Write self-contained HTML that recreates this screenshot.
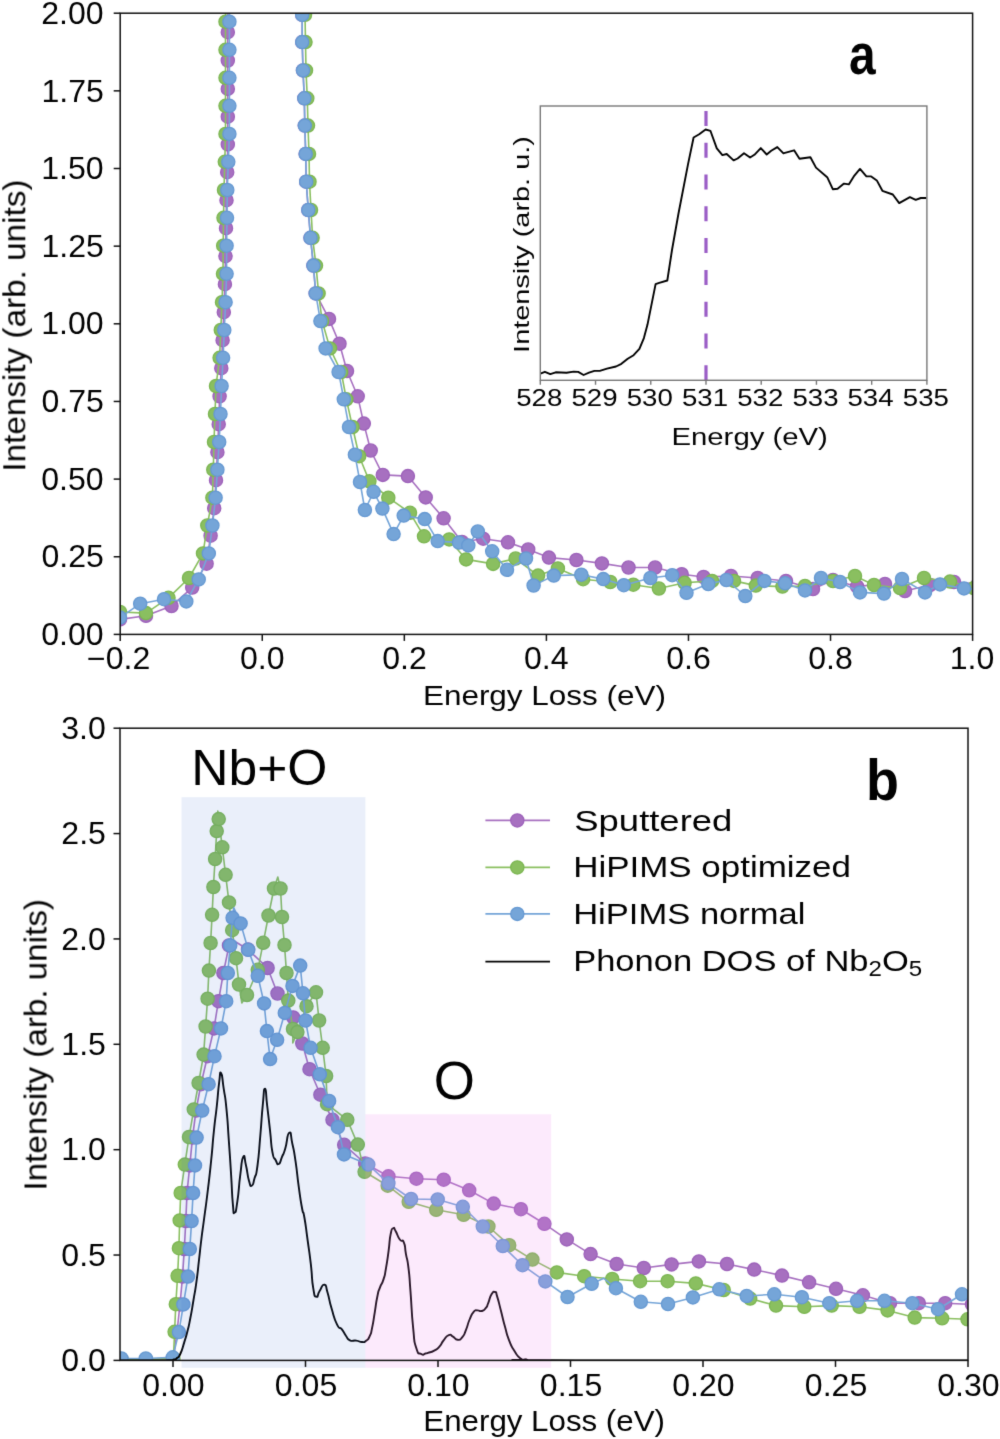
<!DOCTYPE html>
<html><head><meta charset="utf-8"><title>EELS spectra</title>
<style>html,body{margin:0;padding:0;background:#fff;}svg{display:block;font-family:"Liberation Sans",sans-serif;}</style>
</head><body>
<svg width="1000" height="1439" viewBox="0 0 1000 1439">
<defs>
<clipPath id="ca"><rect x="120.2" y="13.2" width="852.4" height="621.1999999999999"/></clipPath>
<clipPath id="cb"><rect x="120.0" y="728.2" width="848.0" height="632.2"/></clipPath>
<clipPath id="ci"><rect x="540.3" y="106.0" width="386.6" height="274.3"/></clipPath>
<filter id="soft" x="0" y="0" width="1000" height="1439" filterUnits="userSpaceOnUse" color-interpolation-filters="sRGB"><feConvolveMatrix order="3" kernelMatrix="0.01134 0.08382 0.01134 0.08382 0.61935 0.08382 0.01134 0.08382 0.01134" divisor="1" edgeMode="duplicate" preserveAlpha="false"/></filter>
</defs>
<g filter="url(#soft)">
<rect x="0" y="0" width="1000" height="1439" fill="#fff"/>
<g clip-path="url(#ca)">
<path d="M95.0,628.0 L120.0,619.4 L146.0,615.8 L171.5,606.0 L192.2,587.6 L206.6,563.7 L210.6,535.7 L214.2,508.2 L216.0,480.2 L217.4,452.2 L218.7,424.2 L219.6,396.3 L221.3,368.2 L222.6,340.2 L223.8,312.2 L224.9,284.2 L225.5,256.2 L226.0,228.2 L226.5,200.2 L227.2,172.2 L227.8,144.4 L227.8,116.7 L227.8,88.9 L227.8,60.5 L227.8,32.2 L228.0,4.5 L229.0,-20.0 L300.0,-20.0 L302.2,14.8 L302.2,42.1 L303.0,70.4 L304.3,98.3 L304.8,125.6 L305.7,153.9 L306.2,181.7 L308.3,210.0 L310.5,237.8 L313.4,265.6 L315.7,293.4 L329.0,318.9 L339.5,343.7 L347.0,371.0 L357.7,396.3 L363.8,423.6 L370.7,450.5 L382.8,474.9 L407.9,476.1 L425.7,497.4 L443.6,518.3 L462.0,542.0 L483.2,538.7 L508.0,542.3 L528.2,549.5 L548.9,557.6 L576.4,560.0 L601.9,563.4 L628.5,567.5 L655.1,567.5 L681.7,574.2 L703.6,577.0 L731.0,576.0 L757.7,578.0 L786.0,581.0 L813.0,589.0 L833.0,580.0 L857.0,586.4 L885.0,584.0 L905.0,591.0 L930.0,585.0 L954.0,582.0 L978.0,584.0 L1000.0,585.0" fill="none" stroke="#a770c0" stroke-width="1.6" stroke-linejoin="round"/>
<circle cx="120.0" cy="619.4" r="6.6" fill="#a770c0" stroke="#9d62ba" stroke-width="1.3"/>
<circle cx="146.0" cy="615.8" r="6.6" fill="#a770c0" stroke="#9d62ba" stroke-width="1.3"/>
<circle cx="171.5" cy="606.0" r="6.6" fill="#a770c0" stroke="#9d62ba" stroke-width="1.3"/>
<circle cx="192.2" cy="587.6" r="6.6" fill="#a770c0" stroke="#9d62ba" stroke-width="1.3"/>
<circle cx="206.6" cy="563.7" r="6.6" fill="#a770c0" stroke="#9d62ba" stroke-width="1.3"/>
<circle cx="210.6" cy="535.7" r="6.6" fill="#a770c0" stroke="#9d62ba" stroke-width="1.3"/>
<circle cx="214.2" cy="508.2" r="6.6" fill="#a770c0" stroke="#9d62ba" stroke-width="1.3"/>
<circle cx="216.0" cy="480.2" r="6.6" fill="#a770c0" stroke="#9d62ba" stroke-width="1.3"/>
<circle cx="217.4" cy="452.2" r="6.6" fill="#a770c0" stroke="#9d62ba" stroke-width="1.3"/>
<circle cx="218.7" cy="424.2" r="6.6" fill="#a770c0" stroke="#9d62ba" stroke-width="1.3"/>
<circle cx="219.6" cy="396.3" r="6.6" fill="#a770c0" stroke="#9d62ba" stroke-width="1.3"/>
<circle cx="221.3" cy="368.2" r="6.6" fill="#a770c0" stroke="#9d62ba" stroke-width="1.3"/>
<circle cx="222.6" cy="340.2" r="6.6" fill="#a770c0" stroke="#9d62ba" stroke-width="1.3"/>
<circle cx="223.8" cy="312.2" r="6.6" fill="#a770c0" stroke="#9d62ba" stroke-width="1.3"/>
<circle cx="224.9" cy="284.2" r="6.6" fill="#a770c0" stroke="#9d62ba" stroke-width="1.3"/>
<circle cx="225.5" cy="256.2" r="6.6" fill="#a770c0" stroke="#9d62ba" stroke-width="1.3"/>
<circle cx="226.0" cy="228.2" r="6.6" fill="#a770c0" stroke="#9d62ba" stroke-width="1.3"/>
<circle cx="226.5" cy="200.2" r="6.6" fill="#a770c0" stroke="#9d62ba" stroke-width="1.3"/>
<circle cx="227.2" cy="172.2" r="6.6" fill="#a770c0" stroke="#9d62ba" stroke-width="1.3"/>
<circle cx="227.8" cy="144.4" r="6.6" fill="#a770c0" stroke="#9d62ba" stroke-width="1.3"/>
<circle cx="227.8" cy="116.7" r="6.6" fill="#a770c0" stroke="#9d62ba" stroke-width="1.3"/>
<circle cx="227.8" cy="88.9" r="6.6" fill="#a770c0" stroke="#9d62ba" stroke-width="1.3"/>
<circle cx="227.8" cy="60.5" r="6.6" fill="#a770c0" stroke="#9d62ba" stroke-width="1.3"/>
<circle cx="227.8" cy="32.2" r="6.6" fill="#a770c0" stroke="#9d62ba" stroke-width="1.3"/>
<circle cx="228.0" cy="4.5" r="6.6" fill="#a770c0" stroke="#9d62ba" stroke-width="1.3"/>
<circle cx="302.2" cy="14.8" r="6.6" fill="#a770c0" stroke="#9d62ba" stroke-width="1.3"/>
<circle cx="302.2" cy="42.1" r="6.6" fill="#a770c0" stroke="#9d62ba" stroke-width="1.3"/>
<circle cx="303.0" cy="70.4" r="6.6" fill="#a770c0" stroke="#9d62ba" stroke-width="1.3"/>
<circle cx="304.3" cy="98.3" r="6.6" fill="#a770c0" stroke="#9d62ba" stroke-width="1.3"/>
<circle cx="304.8" cy="125.6" r="6.6" fill="#a770c0" stroke="#9d62ba" stroke-width="1.3"/>
<circle cx="305.7" cy="153.9" r="6.6" fill="#a770c0" stroke="#9d62ba" stroke-width="1.3"/>
<circle cx="306.2" cy="181.7" r="6.6" fill="#a770c0" stroke="#9d62ba" stroke-width="1.3"/>
<circle cx="308.3" cy="210.0" r="6.6" fill="#a770c0" stroke="#9d62ba" stroke-width="1.3"/>
<circle cx="310.5" cy="237.8" r="6.6" fill="#a770c0" stroke="#9d62ba" stroke-width="1.3"/>
<circle cx="313.4" cy="265.6" r="6.6" fill="#a770c0" stroke="#9d62ba" stroke-width="1.3"/>
<circle cx="315.7" cy="293.4" r="6.6" fill="#a770c0" stroke="#9d62ba" stroke-width="1.3"/>
<circle cx="329.0" cy="318.9" r="6.6" fill="#a770c0" stroke="#9d62ba" stroke-width="1.3"/>
<circle cx="339.5" cy="343.7" r="6.6" fill="#a770c0" stroke="#9d62ba" stroke-width="1.3"/>
<circle cx="347.0" cy="371.0" r="6.6" fill="#a770c0" stroke="#9d62ba" stroke-width="1.3"/>
<circle cx="357.7" cy="396.3" r="6.6" fill="#a770c0" stroke="#9d62ba" stroke-width="1.3"/>
<circle cx="363.8" cy="423.6" r="6.6" fill="#a770c0" stroke="#9d62ba" stroke-width="1.3"/>
<circle cx="370.7" cy="450.5" r="6.6" fill="#a770c0" stroke="#9d62ba" stroke-width="1.3"/>
<circle cx="382.8" cy="474.9" r="6.6" fill="#a770c0" stroke="#9d62ba" stroke-width="1.3"/>
<circle cx="407.9" cy="476.1" r="6.6" fill="#a770c0" stroke="#9d62ba" stroke-width="1.3"/>
<circle cx="425.7" cy="497.4" r="6.6" fill="#a770c0" stroke="#9d62ba" stroke-width="1.3"/>
<circle cx="443.6" cy="518.3" r="6.6" fill="#a770c0" stroke="#9d62ba" stroke-width="1.3"/>
<circle cx="462.0" cy="542.0" r="6.6" fill="#a770c0" stroke="#9d62ba" stroke-width="1.3"/>
<circle cx="483.2" cy="538.7" r="6.6" fill="#a770c0" stroke="#9d62ba" stroke-width="1.3"/>
<circle cx="508.0" cy="542.3" r="6.6" fill="#a770c0" stroke="#9d62ba" stroke-width="1.3"/>
<circle cx="528.2" cy="549.5" r="6.6" fill="#a770c0" stroke="#9d62ba" stroke-width="1.3"/>
<circle cx="548.9" cy="557.6" r="6.6" fill="#a770c0" stroke="#9d62ba" stroke-width="1.3"/>
<circle cx="576.4" cy="560.0" r="6.6" fill="#a770c0" stroke="#9d62ba" stroke-width="1.3"/>
<circle cx="601.9" cy="563.4" r="6.6" fill="#a770c0" stroke="#9d62ba" stroke-width="1.3"/>
<circle cx="628.5" cy="567.5" r="6.6" fill="#a770c0" stroke="#9d62ba" stroke-width="1.3"/>
<circle cx="655.1" cy="567.5" r="6.6" fill="#a770c0" stroke="#9d62ba" stroke-width="1.3"/>
<circle cx="681.7" cy="574.2" r="6.6" fill="#a770c0" stroke="#9d62ba" stroke-width="1.3"/>
<circle cx="703.6" cy="577.0" r="6.6" fill="#a770c0" stroke="#9d62ba" stroke-width="1.3"/>
<circle cx="731.0" cy="576.0" r="6.6" fill="#a770c0" stroke="#9d62ba" stroke-width="1.3"/>
<circle cx="757.7" cy="578.0" r="6.6" fill="#a770c0" stroke="#9d62ba" stroke-width="1.3"/>
<circle cx="786.0" cy="581.0" r="6.6" fill="#a770c0" stroke="#9d62ba" stroke-width="1.3"/>
<circle cx="813.0" cy="589.0" r="6.6" fill="#a770c0" stroke="#9d62ba" stroke-width="1.3"/>
<circle cx="833.0" cy="580.0" r="6.6" fill="#a770c0" stroke="#9d62ba" stroke-width="1.3"/>
<circle cx="857.0" cy="586.4" r="6.6" fill="#a770c0" stroke="#9d62ba" stroke-width="1.3"/>
<circle cx="885.0" cy="584.0" r="6.6" fill="#a770c0" stroke="#9d62ba" stroke-width="1.3"/>
<circle cx="905.0" cy="591.0" r="6.6" fill="#a770c0" stroke="#9d62ba" stroke-width="1.3"/>
<circle cx="930.0" cy="585.0" r="6.6" fill="#a770c0" stroke="#9d62ba" stroke-width="1.3"/>
<circle cx="954.0" cy="582.0" r="6.6" fill="#a770c0" stroke="#9d62ba" stroke-width="1.3"/>
<circle cx="978.0" cy="584.0" r="6.6" fill="#a770c0" stroke="#9d62ba" stroke-width="1.3"/>
</g>
<g clip-path="url(#ca)">
<path d="M95.0,606.0 L120.0,612.0 L146.0,613.1 L168.5,597.8 L189.0,578.0 L203.0,553.4 L207.3,525.5 L212.4,497.7 L213.3,469.7 L214.0,442.0 L215.0,414.0 L216.0,386.0 L219.6,357.8 L220.8,330.0 L222.0,302.2 L223.0,273.8 L223.2,245.7 L223.5,217.8 L224.0,190.0 L224.8,161.8 L225.5,133.9 L225.5,105.8 L225.5,77.8 L225.5,49.8 L225.5,21.7 L226.0,-6.0 L227.0,-20.0 L303.0,-20.0 L305.0,14.8 L305.5,42.1 L306.0,70.4 L307.3,98.3 L308.0,125.6 L309.0,153.9 L309.5,181.7 L311.0,210.0 L312.6,237.8 L316.0,265.6 L318.6,293.4 L322.1,321.0 L330.0,348.4 L341.2,372.0 L346.4,399.3 L352.5,427.0 L359.2,456.2 L369.4,481.3 L388.3,497.7 L410.0,512.8 L424.0,536.3 L449.2,539.4 L466.1,559.4 L493.1,563.9 L515.6,558.5 L538.1,575.6 L557.9,568.4 L583.1,579.2 L610.3,582.0 L633.3,584.7 L658.9,588.5 L684.6,582.8 L712.1,580.9 L734.0,580.9 L755.8,585.6 L782.4,586.6 L805.0,586.0 L833.0,581.0 L855.0,576.0 L874.0,585.0 L900.0,588.0 L924.0,578.0 L950.0,581.6 L974.0,588.0 L1000.0,586.0" fill="none" stroke="#8abf60" stroke-width="1.6" stroke-linejoin="round"/>
<circle cx="120.0" cy="612.0" r="6.6" fill="#8abf60" stroke="#7cb652" stroke-width="1.3"/>
<circle cx="146.0" cy="613.1" r="6.6" fill="#8abf60" stroke="#7cb652" stroke-width="1.3"/>
<circle cx="168.5" cy="597.8" r="6.6" fill="#8abf60" stroke="#7cb652" stroke-width="1.3"/>
<circle cx="189.0" cy="578.0" r="6.6" fill="#8abf60" stroke="#7cb652" stroke-width="1.3"/>
<circle cx="203.0" cy="553.4" r="6.6" fill="#8abf60" stroke="#7cb652" stroke-width="1.3"/>
<circle cx="207.3" cy="525.5" r="6.6" fill="#8abf60" stroke="#7cb652" stroke-width="1.3"/>
<circle cx="212.4" cy="497.7" r="6.6" fill="#8abf60" stroke="#7cb652" stroke-width="1.3"/>
<circle cx="213.3" cy="469.7" r="6.6" fill="#8abf60" stroke="#7cb652" stroke-width="1.3"/>
<circle cx="214.0" cy="442.0" r="6.6" fill="#8abf60" stroke="#7cb652" stroke-width="1.3"/>
<circle cx="215.0" cy="414.0" r="6.6" fill="#8abf60" stroke="#7cb652" stroke-width="1.3"/>
<circle cx="216.0" cy="386.0" r="6.6" fill="#8abf60" stroke="#7cb652" stroke-width="1.3"/>
<circle cx="219.6" cy="357.8" r="6.6" fill="#8abf60" stroke="#7cb652" stroke-width="1.3"/>
<circle cx="220.8" cy="330.0" r="6.6" fill="#8abf60" stroke="#7cb652" stroke-width="1.3"/>
<circle cx="222.0" cy="302.2" r="6.6" fill="#8abf60" stroke="#7cb652" stroke-width="1.3"/>
<circle cx="223.0" cy="273.8" r="6.6" fill="#8abf60" stroke="#7cb652" stroke-width="1.3"/>
<circle cx="223.2" cy="245.7" r="6.6" fill="#8abf60" stroke="#7cb652" stroke-width="1.3"/>
<circle cx="223.5" cy="217.8" r="6.6" fill="#8abf60" stroke="#7cb652" stroke-width="1.3"/>
<circle cx="224.0" cy="190.0" r="6.6" fill="#8abf60" stroke="#7cb652" stroke-width="1.3"/>
<circle cx="224.8" cy="161.8" r="6.6" fill="#8abf60" stroke="#7cb652" stroke-width="1.3"/>
<circle cx="225.5" cy="133.9" r="6.6" fill="#8abf60" stroke="#7cb652" stroke-width="1.3"/>
<circle cx="225.5" cy="105.8" r="6.6" fill="#8abf60" stroke="#7cb652" stroke-width="1.3"/>
<circle cx="225.5" cy="77.8" r="6.6" fill="#8abf60" stroke="#7cb652" stroke-width="1.3"/>
<circle cx="225.5" cy="49.8" r="6.6" fill="#8abf60" stroke="#7cb652" stroke-width="1.3"/>
<circle cx="225.5" cy="21.7" r="6.6" fill="#8abf60" stroke="#7cb652" stroke-width="1.3"/>
<circle cx="226.0" cy="-6.0" r="6.6" fill="#8abf60" stroke="#7cb652" stroke-width="1.3"/>
<circle cx="305.0" cy="14.8" r="6.6" fill="#8abf60" stroke="#7cb652" stroke-width="1.3"/>
<circle cx="305.5" cy="42.1" r="6.6" fill="#8abf60" stroke="#7cb652" stroke-width="1.3"/>
<circle cx="306.0" cy="70.4" r="6.6" fill="#8abf60" stroke="#7cb652" stroke-width="1.3"/>
<circle cx="307.3" cy="98.3" r="6.6" fill="#8abf60" stroke="#7cb652" stroke-width="1.3"/>
<circle cx="308.0" cy="125.6" r="6.6" fill="#8abf60" stroke="#7cb652" stroke-width="1.3"/>
<circle cx="309.0" cy="153.9" r="6.6" fill="#8abf60" stroke="#7cb652" stroke-width="1.3"/>
<circle cx="309.5" cy="181.7" r="6.6" fill="#8abf60" stroke="#7cb652" stroke-width="1.3"/>
<circle cx="311.0" cy="210.0" r="6.6" fill="#8abf60" stroke="#7cb652" stroke-width="1.3"/>
<circle cx="312.6" cy="237.8" r="6.6" fill="#8abf60" stroke="#7cb652" stroke-width="1.3"/>
<circle cx="316.0" cy="265.6" r="6.6" fill="#8abf60" stroke="#7cb652" stroke-width="1.3"/>
<circle cx="318.6" cy="293.4" r="6.6" fill="#8abf60" stroke="#7cb652" stroke-width="1.3"/>
<circle cx="322.1" cy="321.0" r="6.6" fill="#8abf60" stroke="#7cb652" stroke-width="1.3"/>
<circle cx="330.0" cy="348.4" r="6.6" fill="#8abf60" stroke="#7cb652" stroke-width="1.3"/>
<circle cx="341.2" cy="372.0" r="6.6" fill="#8abf60" stroke="#7cb652" stroke-width="1.3"/>
<circle cx="346.4" cy="399.3" r="6.6" fill="#8abf60" stroke="#7cb652" stroke-width="1.3"/>
<circle cx="352.5" cy="427.0" r="6.6" fill="#8abf60" stroke="#7cb652" stroke-width="1.3"/>
<circle cx="359.2" cy="456.2" r="6.6" fill="#8abf60" stroke="#7cb652" stroke-width="1.3"/>
<circle cx="369.4" cy="481.3" r="6.6" fill="#8abf60" stroke="#7cb652" stroke-width="1.3"/>
<circle cx="388.3" cy="497.7" r="6.6" fill="#8abf60" stroke="#7cb652" stroke-width="1.3"/>
<circle cx="410.0" cy="512.8" r="6.6" fill="#8abf60" stroke="#7cb652" stroke-width="1.3"/>
<circle cx="424.0" cy="536.3" r="6.6" fill="#8abf60" stroke="#7cb652" stroke-width="1.3"/>
<circle cx="449.2" cy="539.4" r="6.6" fill="#8abf60" stroke="#7cb652" stroke-width="1.3"/>
<circle cx="466.1" cy="559.4" r="6.6" fill="#8abf60" stroke="#7cb652" stroke-width="1.3"/>
<circle cx="493.1" cy="563.9" r="6.6" fill="#8abf60" stroke="#7cb652" stroke-width="1.3"/>
<circle cx="515.6" cy="558.5" r="6.6" fill="#8abf60" stroke="#7cb652" stroke-width="1.3"/>
<circle cx="538.1" cy="575.6" r="6.6" fill="#8abf60" stroke="#7cb652" stroke-width="1.3"/>
<circle cx="557.9" cy="568.4" r="6.6" fill="#8abf60" stroke="#7cb652" stroke-width="1.3"/>
<circle cx="583.1" cy="579.2" r="6.6" fill="#8abf60" stroke="#7cb652" stroke-width="1.3"/>
<circle cx="610.3" cy="582.0" r="6.6" fill="#8abf60" stroke="#7cb652" stroke-width="1.3"/>
<circle cx="633.3" cy="584.7" r="6.6" fill="#8abf60" stroke="#7cb652" stroke-width="1.3"/>
<circle cx="658.9" cy="588.5" r="6.6" fill="#8abf60" stroke="#7cb652" stroke-width="1.3"/>
<circle cx="684.6" cy="582.8" r="6.6" fill="#8abf60" stroke="#7cb652" stroke-width="1.3"/>
<circle cx="712.1" cy="580.9" r="6.6" fill="#8abf60" stroke="#7cb652" stroke-width="1.3"/>
<circle cx="734.0" cy="580.9" r="6.6" fill="#8abf60" stroke="#7cb652" stroke-width="1.3"/>
<circle cx="755.8" cy="585.6" r="6.6" fill="#8abf60" stroke="#7cb652" stroke-width="1.3"/>
<circle cx="782.4" cy="586.6" r="6.6" fill="#8abf60" stroke="#7cb652" stroke-width="1.3"/>
<circle cx="805.0" cy="586.0" r="6.6" fill="#8abf60" stroke="#7cb652" stroke-width="1.3"/>
<circle cx="833.0" cy="581.0" r="6.6" fill="#8abf60" stroke="#7cb652" stroke-width="1.3"/>
<circle cx="855.0" cy="576.0" r="6.6" fill="#8abf60" stroke="#7cb652" stroke-width="1.3"/>
<circle cx="874.0" cy="585.0" r="6.6" fill="#8abf60" stroke="#7cb652" stroke-width="1.3"/>
<circle cx="900.0" cy="588.0" r="6.6" fill="#8abf60" stroke="#7cb652" stroke-width="1.3"/>
<circle cx="924.0" cy="578.0" r="6.6" fill="#8abf60" stroke="#7cb652" stroke-width="1.3"/>
<circle cx="950.0" cy="581.6" r="6.6" fill="#8abf60" stroke="#7cb652" stroke-width="1.3"/>
<circle cx="974.0" cy="588.0" r="6.6" fill="#8abf60" stroke="#7cb652" stroke-width="1.3"/>
</g>
<g clip-path="url(#ca)">
<path d="M95.0,630.0 L120.0,617.6 L140.2,603.7 L164.0,599.2 L186.3,601.4 L198.7,579.4 L208.8,553.4 L212.4,525.5 L215.6,497.7 L217.4,469.7 L219.2,442.0 L220.5,414.0 L221.6,386.0 L223.1,357.8 L224.3,330.0 L225.6,302.2 L226.6,273.8 L226.6,245.7 L227.0,217.8 L227.3,190.0 L228.3,161.8 L229.4,133.9 L229.4,105.8 L229.4,77.8 L229.4,49.8 L229.4,21.7 L229.6,-6.0 L230.0,-20.0 L302.0,-20.0 L302.2,14.8 L302.2,42.1 L303.0,70.4 L304.3,98.3 L304.8,125.6 L305.7,153.9 L306.2,181.7 L308.3,210.0 L310.5,237.8 L313.4,265.6 L315.7,293.4 L320.4,321.1 L325.6,348.4 L338.6,372.0 L343.8,399.3 L349.0,427.0 L354.9,454.7 L360.0,482.0 L364.9,510.0 L373.6,491.8 L382.4,508.6 L393.6,534.1 L403.7,515.6 L424.7,519.1 L437.7,541.1 L459.0,542.6 L468.3,545.4 L477.8,531.5 L492.2,551.3 L507.0,569.8 L526.0,558.5 L533.6,585.5 L553.8,575.6 L581.3,574.7 L603.3,579.1 L623.8,585.2 L650.4,578.0 L672.2,575.2 L686.5,592.8 L708.3,584.0 L726.4,580.0 L745.3,596.0 L764.4,580.9 L785.1,583.3 L805.0,590.4 L821.0,578.0 L840.0,582.0 L860.0,592.4 L884.0,593.6 L902.0,579.0 L925.0,592.4 L940.0,584.4 L964.0,588.4 L985.0,590.0 L1000.0,590.0" fill="none" stroke="#75a5d8" stroke-width="1.6" stroke-linejoin="round"/>
<circle cx="120.0" cy="617.6" r="6.6" fill="#75a5d8" stroke="#6699d2" stroke-width="1.3"/>
<circle cx="140.2" cy="603.7" r="6.6" fill="#75a5d8" stroke="#6699d2" stroke-width="1.3"/>
<circle cx="164.0" cy="599.2" r="6.6" fill="#75a5d8" stroke="#6699d2" stroke-width="1.3"/>
<circle cx="186.3" cy="601.4" r="6.6" fill="#75a5d8" stroke="#6699d2" stroke-width="1.3"/>
<circle cx="198.7" cy="579.4" r="6.6" fill="#75a5d8" stroke="#6699d2" stroke-width="1.3"/>
<circle cx="208.8" cy="553.4" r="6.6" fill="#75a5d8" stroke="#6699d2" stroke-width="1.3"/>
<circle cx="212.4" cy="525.5" r="6.6" fill="#75a5d8" stroke="#6699d2" stroke-width="1.3"/>
<circle cx="215.6" cy="497.7" r="6.6" fill="#75a5d8" stroke="#6699d2" stroke-width="1.3"/>
<circle cx="217.4" cy="469.7" r="6.6" fill="#75a5d8" stroke="#6699d2" stroke-width="1.3"/>
<circle cx="219.2" cy="442.0" r="6.6" fill="#75a5d8" stroke="#6699d2" stroke-width="1.3"/>
<circle cx="220.5" cy="414.0" r="6.6" fill="#75a5d8" stroke="#6699d2" stroke-width="1.3"/>
<circle cx="221.6" cy="386.0" r="6.6" fill="#75a5d8" stroke="#6699d2" stroke-width="1.3"/>
<circle cx="223.1" cy="357.8" r="6.6" fill="#75a5d8" stroke="#6699d2" stroke-width="1.3"/>
<circle cx="224.3" cy="330.0" r="6.6" fill="#75a5d8" stroke="#6699d2" stroke-width="1.3"/>
<circle cx="225.6" cy="302.2" r="6.6" fill="#75a5d8" stroke="#6699d2" stroke-width="1.3"/>
<circle cx="226.6" cy="273.8" r="6.6" fill="#75a5d8" stroke="#6699d2" stroke-width="1.3"/>
<circle cx="226.6" cy="245.7" r="6.6" fill="#75a5d8" stroke="#6699d2" stroke-width="1.3"/>
<circle cx="227.0" cy="217.8" r="6.6" fill="#75a5d8" stroke="#6699d2" stroke-width="1.3"/>
<circle cx="227.3" cy="190.0" r="6.6" fill="#75a5d8" stroke="#6699d2" stroke-width="1.3"/>
<circle cx="228.3" cy="161.8" r="6.6" fill="#75a5d8" stroke="#6699d2" stroke-width="1.3"/>
<circle cx="229.4" cy="133.9" r="6.6" fill="#75a5d8" stroke="#6699d2" stroke-width="1.3"/>
<circle cx="229.4" cy="105.8" r="6.6" fill="#75a5d8" stroke="#6699d2" stroke-width="1.3"/>
<circle cx="229.4" cy="77.8" r="6.6" fill="#75a5d8" stroke="#6699d2" stroke-width="1.3"/>
<circle cx="229.4" cy="49.8" r="6.6" fill="#75a5d8" stroke="#6699d2" stroke-width="1.3"/>
<circle cx="229.4" cy="21.7" r="6.6" fill="#75a5d8" stroke="#6699d2" stroke-width="1.3"/>
<circle cx="229.6" cy="-6.0" r="6.6" fill="#75a5d8" stroke="#6699d2" stroke-width="1.3"/>
<circle cx="302.2" cy="14.8" r="6.6" fill="#75a5d8" stroke="#6699d2" stroke-width="1.3"/>
<circle cx="302.2" cy="42.1" r="6.6" fill="#75a5d8" stroke="#6699d2" stroke-width="1.3"/>
<circle cx="303.0" cy="70.4" r="6.6" fill="#75a5d8" stroke="#6699d2" stroke-width="1.3"/>
<circle cx="304.3" cy="98.3" r="6.6" fill="#75a5d8" stroke="#6699d2" stroke-width="1.3"/>
<circle cx="304.8" cy="125.6" r="6.6" fill="#75a5d8" stroke="#6699d2" stroke-width="1.3"/>
<circle cx="305.7" cy="153.9" r="6.6" fill="#75a5d8" stroke="#6699d2" stroke-width="1.3"/>
<circle cx="306.2" cy="181.7" r="6.6" fill="#75a5d8" stroke="#6699d2" stroke-width="1.3"/>
<circle cx="308.3" cy="210.0" r="6.6" fill="#75a5d8" stroke="#6699d2" stroke-width="1.3"/>
<circle cx="310.5" cy="237.8" r="6.6" fill="#75a5d8" stroke="#6699d2" stroke-width="1.3"/>
<circle cx="313.4" cy="265.6" r="6.6" fill="#75a5d8" stroke="#6699d2" stroke-width="1.3"/>
<circle cx="315.7" cy="293.4" r="6.6" fill="#75a5d8" stroke="#6699d2" stroke-width="1.3"/>
<circle cx="320.4" cy="321.1" r="6.6" fill="#75a5d8" stroke="#6699d2" stroke-width="1.3"/>
<circle cx="325.6" cy="348.4" r="6.6" fill="#75a5d8" stroke="#6699d2" stroke-width="1.3"/>
<circle cx="338.6" cy="372.0" r="6.6" fill="#75a5d8" stroke="#6699d2" stroke-width="1.3"/>
<circle cx="343.8" cy="399.3" r="6.6" fill="#75a5d8" stroke="#6699d2" stroke-width="1.3"/>
<circle cx="349.0" cy="427.0" r="6.6" fill="#75a5d8" stroke="#6699d2" stroke-width="1.3"/>
<circle cx="354.9" cy="454.7" r="6.6" fill="#75a5d8" stroke="#6699d2" stroke-width="1.3"/>
<circle cx="360.0" cy="482.0" r="6.6" fill="#75a5d8" stroke="#6699d2" stroke-width="1.3"/>
<circle cx="364.9" cy="510.0" r="6.6" fill="#75a5d8" stroke="#6699d2" stroke-width="1.3"/>
<circle cx="373.6" cy="491.8" r="6.6" fill="#75a5d8" stroke="#6699d2" stroke-width="1.3"/>
<circle cx="382.4" cy="508.6" r="6.6" fill="#75a5d8" stroke="#6699d2" stroke-width="1.3"/>
<circle cx="393.6" cy="534.1" r="6.6" fill="#75a5d8" stroke="#6699d2" stroke-width="1.3"/>
<circle cx="403.7" cy="515.6" r="6.6" fill="#75a5d8" stroke="#6699d2" stroke-width="1.3"/>
<circle cx="424.7" cy="519.1" r="6.6" fill="#75a5d8" stroke="#6699d2" stroke-width="1.3"/>
<circle cx="437.7" cy="541.1" r="6.6" fill="#75a5d8" stroke="#6699d2" stroke-width="1.3"/>
<circle cx="459.0" cy="542.6" r="6.6" fill="#75a5d8" stroke="#6699d2" stroke-width="1.3"/>
<circle cx="468.3" cy="545.4" r="6.6" fill="#75a5d8" stroke="#6699d2" stroke-width="1.3"/>
<circle cx="477.8" cy="531.5" r="6.6" fill="#75a5d8" stroke="#6699d2" stroke-width="1.3"/>
<circle cx="492.2" cy="551.3" r="6.6" fill="#75a5d8" stroke="#6699d2" stroke-width="1.3"/>
<circle cx="507.0" cy="569.8" r="6.6" fill="#75a5d8" stroke="#6699d2" stroke-width="1.3"/>
<circle cx="526.0" cy="558.5" r="6.6" fill="#75a5d8" stroke="#6699d2" stroke-width="1.3"/>
<circle cx="533.6" cy="585.5" r="6.6" fill="#75a5d8" stroke="#6699d2" stroke-width="1.3"/>
<circle cx="553.8" cy="575.6" r="6.6" fill="#75a5d8" stroke="#6699d2" stroke-width="1.3"/>
<circle cx="581.3" cy="574.7" r="6.6" fill="#75a5d8" stroke="#6699d2" stroke-width="1.3"/>
<circle cx="603.3" cy="579.1" r="6.6" fill="#75a5d8" stroke="#6699d2" stroke-width="1.3"/>
<circle cx="623.8" cy="585.2" r="6.6" fill="#75a5d8" stroke="#6699d2" stroke-width="1.3"/>
<circle cx="650.4" cy="578.0" r="6.6" fill="#75a5d8" stroke="#6699d2" stroke-width="1.3"/>
<circle cx="672.2" cy="575.2" r="6.6" fill="#75a5d8" stroke="#6699d2" stroke-width="1.3"/>
<circle cx="686.5" cy="592.8" r="6.6" fill="#75a5d8" stroke="#6699d2" stroke-width="1.3"/>
<circle cx="708.3" cy="584.0" r="6.6" fill="#75a5d8" stroke="#6699d2" stroke-width="1.3"/>
<circle cx="726.4" cy="580.0" r="6.6" fill="#75a5d8" stroke="#6699d2" stroke-width="1.3"/>
<circle cx="745.3" cy="596.0" r="6.6" fill="#75a5d8" stroke="#6699d2" stroke-width="1.3"/>
<circle cx="764.4" cy="580.9" r="6.6" fill="#75a5d8" stroke="#6699d2" stroke-width="1.3"/>
<circle cx="785.1" cy="583.3" r="6.6" fill="#75a5d8" stroke="#6699d2" stroke-width="1.3"/>
<circle cx="805.0" cy="590.4" r="6.6" fill="#75a5d8" stroke="#6699d2" stroke-width="1.3"/>
<circle cx="821.0" cy="578.0" r="6.6" fill="#75a5d8" stroke="#6699d2" stroke-width="1.3"/>
<circle cx="840.0" cy="582.0" r="6.6" fill="#75a5d8" stroke="#6699d2" stroke-width="1.3"/>
<circle cx="860.0" cy="592.4" r="6.6" fill="#75a5d8" stroke="#6699d2" stroke-width="1.3"/>
<circle cx="884.0" cy="593.6" r="6.6" fill="#75a5d8" stroke="#6699d2" stroke-width="1.3"/>
<circle cx="902.0" cy="579.0" r="6.6" fill="#75a5d8" stroke="#6699d2" stroke-width="1.3"/>
<circle cx="925.0" cy="592.4" r="6.6" fill="#75a5d8" stroke="#6699d2" stroke-width="1.3"/>
<circle cx="940.0" cy="584.4" r="6.6" fill="#75a5d8" stroke="#6699d2" stroke-width="1.3"/>
<circle cx="964.0" cy="588.4" r="6.6" fill="#75a5d8" stroke="#6699d2" stroke-width="1.3"/>
<circle cx="985.0" cy="590.0" r="6.6" fill="#75a5d8" stroke="#6699d2" stroke-width="1.3"/>
</g>
<rect x="540.3" y="106.0" width="386.6" height="274.3" fill="#fff"/>
<path d="M540.4,373.6 L544.9,371.8 L550.3,374.1 L555.7,372.3 L566.5,372.7 L573.7,371.6 L578.2,371.9 L583.6,375.0 L589.0,372.7 L594.4,370.9 L599.8,370.9 L607.0,368.7 L616.0,366.5 L621.4,363.8 L627.7,358.8 L633.6,355.2 L639.4,348.9 L643.9,338.1 L647.5,324.6 L655.6,284.1 L659.2,282.8 L667.3,280.5 L672.0,250.0 L678.4,214.0 L688.0,164.4 L693.6,137.5 L699.2,134.3 L705.6,129.5 L710.4,130.8 L716.8,148.4 L722.4,155.1 L726.7,154.0 L733.6,160.4 L737.6,158.5 L744.0,153.2 L750.1,157.5 L754.4,154.8 L760.8,148.1 L766.7,154.5 L771.2,150.8 L777.3,147.1 L783.2,153.2 L784.0,153.2 L794.1,150.3 L799.5,158.8 L810.4,157.2 L816.0,167.6 L827.2,177.2 L832.8,189.2 L837.6,188.7 L844.0,183.6 L848.8,184.4 L854.4,175.6 L860.0,168.9 L866.4,176.4 L871.2,176.4 L876.8,180.4 L882.4,190.8 L892.8,194.5 L899.2,203.1 L909.9,197.2 L915.7,199.9 L920.8,198.0 L926.4,198.0" fill="none" stroke="#000" stroke-width="1.9" stroke-linejoin="round" clip-path="url(#ci)"/>
<line x1="705.99" y1="380.3" x2="705.99" y2="106.0" stroke="#9a5cc6" stroke-width="3.2" stroke-dasharray="15 16.8"/>
<rect x="540.3" y="106.0" width="386.6" height="274.3" fill="none" stroke="#777" stroke-width="1.4"/>
<line x1="540.30" y1="380.3" x2="540.30" y2="384.8" stroke="#777" stroke-width="1.4"/>
<line x1="595.53" y1="380.3" x2="595.53" y2="384.8" stroke="#777" stroke-width="1.4"/>
<line x1="650.76" y1="380.3" x2="650.76" y2="384.8" stroke="#777" stroke-width="1.4"/>
<line x1="705.99" y1="380.3" x2="705.99" y2="384.8" stroke="#777" stroke-width="1.4"/>
<line x1="761.21" y1="380.3" x2="761.21" y2="384.8" stroke="#777" stroke-width="1.4"/>
<line x1="816.44" y1="380.3" x2="816.44" y2="384.8" stroke="#777" stroke-width="1.4"/>
<line x1="871.67" y1="380.3" x2="871.67" y2="384.8" stroke="#777" stroke-width="1.4"/>
<line x1="926.90" y1="380.3" x2="926.90" y2="384.8" stroke="#777" stroke-width="1.4"/>
<rect x="120.2" y="13.2" width="852.4" height="621.1999999999999" fill="none" stroke="#111" stroke-width="1.5"/>
<line x1="113.7" y1="634.40" x2="120.2" y2="634.40" stroke="#111" stroke-width="1.5"/>
<line x1="113.7" y1="556.75" x2="120.2" y2="556.75" stroke="#111" stroke-width="1.5"/>
<line x1="113.7" y1="479.10" x2="120.2" y2="479.10" stroke="#111" stroke-width="1.5"/>
<line x1="113.7" y1="401.45" x2="120.2" y2="401.45" stroke="#111" stroke-width="1.5"/>
<line x1="113.7" y1="323.80" x2="120.2" y2="323.80" stroke="#111" stroke-width="1.5"/>
<line x1="113.7" y1="246.15" x2="120.2" y2="246.15" stroke="#111" stroke-width="1.5"/>
<line x1="113.7" y1="168.50" x2="120.2" y2="168.50" stroke="#111" stroke-width="1.5"/>
<line x1="113.7" y1="90.85" x2="120.2" y2="90.85" stroke="#111" stroke-width="1.5"/>
<line x1="113.7" y1="13.20" x2="120.2" y2="13.20" stroke="#111" stroke-width="1.5"/>
<line x1="120.20" y1="634.4" x2="120.20" y2="640.9" stroke="#111" stroke-width="1.5"/>
<line x1="262.27" y1="634.4" x2="262.27" y2="640.9" stroke="#111" stroke-width="1.5"/>
<line x1="404.33" y1="634.4" x2="404.33" y2="640.9" stroke="#111" stroke-width="1.5"/>
<line x1="546.40" y1="634.4" x2="546.40" y2="640.9" stroke="#111" stroke-width="1.5"/>
<line x1="688.47" y1="634.4" x2="688.47" y2="640.9" stroke="#111" stroke-width="1.5"/>
<line x1="830.53" y1="634.4" x2="830.53" y2="640.9" stroke="#111" stroke-width="1.5"/>
<line x1="972.60" y1="634.4" x2="972.60" y2="640.9" stroke="#111" stroke-width="1.5"/>
<g clip-path="url(#cb)">
<path d="M95.0,1360.0 L121.4,1359.5 L146.0,1359.5 L172.5,1359.0 L174.5,1350.0 L177.0,1332.0 L180.0,1304.4 L182.5,1276.6 L184.3,1249.0 L185.8,1221.0 L187.0,1193.0 L189.8,1165.4 L192.5,1137.6 L196.0,1110.6 L201.0,1084.2 L207.5,1056.2 L214.0,1028.4 L218.4,1001.2 L223.4,973.0 L229.0,945.4 L231.0,939.0 L248.0,949.5 L267.6,968.0 L277.5,993.5 L293.2,1017.4 L302.3,1043.5 L309.5,1069.2 L320.4,1094.7 L332.5,1119.8 L344.2,1144.8 L365.2,1163.5 L388.4,1176.3 L416.4,1178.7 L443.7,1179.7 L469.2,1190.3 L493.7,1203.6 L520.9,1209.2 L544.4,1223.8 L566.8,1239.4 L590.6,1254.1 L616.6,1264.0 L643.8,1268.0 L671.6,1264.4 L698.9,1261.4 L727.0,1264.0 L754.2,1269.6 L782.0,1275.6 L809.1,1282.3 L836.0,1288.8 L862.9,1295.3 L890.0,1303.2 L918.8,1303.2 L945.2,1303.2 L972.0,1304.4 L1000.0,1305.0" fill="none" stroke="#a770c0" stroke-width="1.6" stroke-linejoin="round"/>
<circle cx="121.4" cy="1359.5" r="6.6" fill="#a770c0" stroke="#9d62ba" stroke-width="1.3"/>
<circle cx="146.0" cy="1359.5" r="6.6" fill="#a770c0" stroke="#9d62ba" stroke-width="1.3"/>
<circle cx="172.5" cy="1359.0" r="6.6" fill="#a770c0" stroke="#9d62ba" stroke-width="1.3"/>
<circle cx="177.0" cy="1332.0" r="6.6" fill="#a770c0" stroke="#9d62ba" stroke-width="1.3"/>
<circle cx="180.0" cy="1304.4" r="6.6" fill="#a770c0" stroke="#9d62ba" stroke-width="1.3"/>
<circle cx="182.5" cy="1276.6" r="6.6" fill="#a770c0" stroke="#9d62ba" stroke-width="1.3"/>
<circle cx="184.3" cy="1249.0" r="6.6" fill="#a770c0" stroke="#9d62ba" stroke-width="1.3"/>
<circle cx="185.8" cy="1221.0" r="6.6" fill="#a770c0" stroke="#9d62ba" stroke-width="1.3"/>
<circle cx="187.0" cy="1193.0" r="6.6" fill="#a770c0" stroke="#9d62ba" stroke-width="1.3"/>
<circle cx="189.8" cy="1165.4" r="6.6" fill="#a770c0" stroke="#9d62ba" stroke-width="1.3"/>
<circle cx="192.5" cy="1137.6" r="6.6" fill="#a770c0" stroke="#9d62ba" stroke-width="1.3"/>
<circle cx="196.0" cy="1110.6" r="6.6" fill="#a770c0" stroke="#9d62ba" stroke-width="1.3"/>
<circle cx="201.0" cy="1084.2" r="6.6" fill="#a770c0" stroke="#9d62ba" stroke-width="1.3"/>
<circle cx="207.5" cy="1056.2" r="6.6" fill="#a770c0" stroke="#9d62ba" stroke-width="1.3"/>
<circle cx="214.0" cy="1028.4" r="6.6" fill="#a770c0" stroke="#9d62ba" stroke-width="1.3"/>
<circle cx="218.4" cy="1001.2" r="6.6" fill="#a770c0" stroke="#9d62ba" stroke-width="1.3"/>
<circle cx="223.4" cy="973.0" r="6.6" fill="#a770c0" stroke="#9d62ba" stroke-width="1.3"/>
<circle cx="229.0" cy="945.4" r="6.6" fill="#a770c0" stroke="#9d62ba" stroke-width="1.3"/>
<circle cx="248.0" cy="949.5" r="6.6" fill="#a770c0" stroke="#9d62ba" stroke-width="1.3"/>
<circle cx="267.6" cy="968.0" r="6.6" fill="#a770c0" stroke="#9d62ba" stroke-width="1.3"/>
<circle cx="277.5" cy="993.5" r="6.6" fill="#a770c0" stroke="#9d62ba" stroke-width="1.3"/>
<circle cx="293.2" cy="1017.4" r="6.6" fill="#a770c0" stroke="#9d62ba" stroke-width="1.3"/>
<circle cx="302.3" cy="1043.5" r="6.6" fill="#a770c0" stroke="#9d62ba" stroke-width="1.3"/>
<circle cx="309.5" cy="1069.2" r="6.6" fill="#a770c0" stroke="#9d62ba" stroke-width="1.3"/>
<circle cx="320.4" cy="1094.7" r="6.6" fill="#a770c0" stroke="#9d62ba" stroke-width="1.3"/>
<circle cx="332.5" cy="1119.8" r="6.6" fill="#a770c0" stroke="#9d62ba" stroke-width="1.3"/>
<circle cx="344.2" cy="1144.8" r="6.6" fill="#a770c0" stroke="#9d62ba" stroke-width="1.3"/>
<circle cx="365.2" cy="1163.5" r="6.6" fill="#a770c0" stroke="#9d62ba" stroke-width="1.3"/>
<circle cx="388.4" cy="1176.3" r="6.6" fill="#a770c0" stroke="#9d62ba" stroke-width="1.3"/>
<circle cx="416.4" cy="1178.7" r="6.6" fill="#a770c0" stroke="#9d62ba" stroke-width="1.3"/>
<circle cx="443.7" cy="1179.7" r="6.6" fill="#a770c0" stroke="#9d62ba" stroke-width="1.3"/>
<circle cx="469.2" cy="1190.3" r="6.6" fill="#a770c0" stroke="#9d62ba" stroke-width="1.3"/>
<circle cx="493.7" cy="1203.6" r="6.6" fill="#a770c0" stroke="#9d62ba" stroke-width="1.3"/>
<circle cx="520.9" cy="1209.2" r="6.6" fill="#a770c0" stroke="#9d62ba" stroke-width="1.3"/>
<circle cx="544.4" cy="1223.8" r="6.6" fill="#a770c0" stroke="#9d62ba" stroke-width="1.3"/>
<circle cx="566.8" cy="1239.4" r="6.6" fill="#a770c0" stroke="#9d62ba" stroke-width="1.3"/>
<circle cx="590.6" cy="1254.1" r="6.6" fill="#a770c0" stroke="#9d62ba" stroke-width="1.3"/>
<circle cx="616.6" cy="1264.0" r="6.6" fill="#a770c0" stroke="#9d62ba" stroke-width="1.3"/>
<circle cx="643.8" cy="1268.0" r="6.6" fill="#a770c0" stroke="#9d62ba" stroke-width="1.3"/>
<circle cx="671.6" cy="1264.4" r="6.6" fill="#a770c0" stroke="#9d62ba" stroke-width="1.3"/>
<circle cx="698.9" cy="1261.4" r="6.6" fill="#a770c0" stroke="#9d62ba" stroke-width="1.3"/>
<circle cx="727.0" cy="1264.0" r="6.6" fill="#a770c0" stroke="#9d62ba" stroke-width="1.3"/>
<circle cx="754.2" cy="1269.6" r="6.6" fill="#a770c0" stroke="#9d62ba" stroke-width="1.3"/>
<circle cx="782.0" cy="1275.6" r="6.6" fill="#a770c0" stroke="#9d62ba" stroke-width="1.3"/>
<circle cx="809.1" cy="1282.3" r="6.6" fill="#a770c0" stroke="#9d62ba" stroke-width="1.3"/>
<circle cx="836.0" cy="1288.8" r="6.6" fill="#a770c0" stroke="#9d62ba" stroke-width="1.3"/>
<circle cx="862.9" cy="1295.3" r="6.6" fill="#a770c0" stroke="#9d62ba" stroke-width="1.3"/>
<circle cx="890.0" cy="1303.2" r="6.6" fill="#a770c0" stroke="#9d62ba" stroke-width="1.3"/>
<circle cx="918.8" cy="1303.2" r="6.6" fill="#a770c0" stroke="#9d62ba" stroke-width="1.3"/>
<circle cx="945.2" cy="1303.2" r="6.6" fill="#a770c0" stroke="#9d62ba" stroke-width="1.3"/>
<circle cx="972.0" cy="1304.4" r="6.6" fill="#a770c0" stroke="#9d62ba" stroke-width="1.3"/>
</g>
<g clip-path="url(#cb)">
<path d="M95.0,1360.0 L121.4,1359.5 L146.0,1359.5 L173.4,1358.6 L174.6,1331.8 L175.8,1304.2 L177.6,1275.8 L178.9,1248.2 L179.7,1220.4 L180.7,1193.0 L184.8,1164.6 L189.0,1137.0 L193.8,1109.4 L198.6,1083.0 L203.6,1054.6 L205.6,1026.5 L207.6,998.7 L208.9,970.6 L210.6,943.0 L212.1,914.8 L213.4,887.0 L215.1,859.0 L216.7,831.1 L217.8,811.0 L218.7,819.1 L222.3,847.3 L225.6,874.8 L229.0,902.4 L232.2,930.2 L236.0,958.2 L239.0,984.5 L241.8,1003.0 L247.0,995.0 L257.8,969.8 L263.2,942.8 L268.5,915.5 L274.0,888.5 L277.8,877.0 L280.5,888.5 L282.0,917.0 L284.5,945.0 L286.5,973.0 L288.3,1000.6 L293.0,1029.0 L292.8,1043.0 L297.4,1032.1 L306.5,1006.2 L316.0,992.3 L319.1,1020.5 L322.7,1047.8 L326.1,1076.0 L327.1,1104.2 L347.3,1119.8 L357.8,1144.6 L364.6,1171.8 L387.7,1185.7 L408.7,1201.8 L436.2,1209.8 L463.6,1214.8 L488.4,1226.5 L509.2,1245.2 L532.4,1259.6 L556.8,1272.4 L584.2,1276.2 L612.2,1279.0 L640.1,1281.2 L667.6,1281.2 L695.8,1283.4 L723.7,1290.0 L750.2,1298.6 L776.0,1305.6 L804.3,1306.8 L831.7,1305.6 L859.5,1306.8 L887.6,1310.4 L914.7,1317.6 L942.1,1318.3 L967.5,1319.3 L1000.0,1320.0" fill="none" stroke="#8abf60" stroke-width="1.6" stroke-linejoin="round"/>
<circle cx="121.4" cy="1359.5" r="6.6" fill="#8abf60" stroke="#7cb652" stroke-width="1.3"/>
<circle cx="146.0" cy="1359.5" r="6.6" fill="#8abf60" stroke="#7cb652" stroke-width="1.3"/>
<circle cx="173.4" cy="1358.6" r="6.6" fill="#8abf60" stroke="#7cb652" stroke-width="1.3"/>
<circle cx="174.6" cy="1331.8" r="6.6" fill="#8abf60" stroke="#7cb652" stroke-width="1.3"/>
<circle cx="175.8" cy="1304.2" r="6.6" fill="#8abf60" stroke="#7cb652" stroke-width="1.3"/>
<circle cx="177.6" cy="1275.8" r="6.6" fill="#8abf60" stroke="#7cb652" stroke-width="1.3"/>
<circle cx="178.9" cy="1248.2" r="6.6" fill="#8abf60" stroke="#7cb652" stroke-width="1.3"/>
<circle cx="179.7" cy="1220.4" r="6.6" fill="#8abf60" stroke="#7cb652" stroke-width="1.3"/>
<circle cx="180.7" cy="1193.0" r="6.6" fill="#8abf60" stroke="#7cb652" stroke-width="1.3"/>
<circle cx="184.8" cy="1164.6" r="6.6" fill="#8abf60" stroke="#7cb652" stroke-width="1.3"/>
<circle cx="189.0" cy="1137.0" r="6.6" fill="#8abf60" stroke="#7cb652" stroke-width="1.3"/>
<circle cx="193.8" cy="1109.4" r="6.6" fill="#8abf60" stroke="#7cb652" stroke-width="1.3"/>
<circle cx="198.6" cy="1083.0" r="6.6" fill="#8abf60" stroke="#7cb652" stroke-width="1.3"/>
<circle cx="203.6" cy="1054.6" r="6.6" fill="#8abf60" stroke="#7cb652" stroke-width="1.3"/>
<circle cx="205.6" cy="1026.5" r="6.6" fill="#8abf60" stroke="#7cb652" stroke-width="1.3"/>
<circle cx="207.6" cy="998.7" r="6.6" fill="#8abf60" stroke="#7cb652" stroke-width="1.3"/>
<circle cx="208.9" cy="970.6" r="6.6" fill="#8abf60" stroke="#7cb652" stroke-width="1.3"/>
<circle cx="210.6" cy="943.0" r="6.6" fill="#8abf60" stroke="#7cb652" stroke-width="1.3"/>
<circle cx="212.1" cy="914.8" r="6.6" fill="#8abf60" stroke="#7cb652" stroke-width="1.3"/>
<circle cx="213.4" cy="887.0" r="6.6" fill="#8abf60" stroke="#7cb652" stroke-width="1.3"/>
<circle cx="215.1" cy="859.0" r="6.6" fill="#8abf60" stroke="#7cb652" stroke-width="1.3"/>
<circle cx="216.7" cy="831.1" r="6.6" fill="#8abf60" stroke="#7cb652" stroke-width="1.3"/>
<circle cx="218.7" cy="819.1" r="6.6" fill="#8abf60" stroke="#7cb652" stroke-width="1.3"/>
<circle cx="222.3" cy="847.3" r="6.6" fill="#8abf60" stroke="#7cb652" stroke-width="1.3"/>
<circle cx="225.6" cy="874.8" r="6.6" fill="#8abf60" stroke="#7cb652" stroke-width="1.3"/>
<circle cx="229.0" cy="902.4" r="6.6" fill="#8abf60" stroke="#7cb652" stroke-width="1.3"/>
<circle cx="232.2" cy="930.2" r="6.6" fill="#8abf60" stroke="#7cb652" stroke-width="1.3"/>
<circle cx="236.0" cy="958.2" r="6.6" fill="#8abf60" stroke="#7cb652" stroke-width="1.3"/>
<circle cx="239.0" cy="984.5" r="6.6" fill="#8abf60" stroke="#7cb652" stroke-width="1.3"/>
<circle cx="247.0" cy="995.0" r="6.6" fill="#8abf60" stroke="#7cb652" stroke-width="1.3"/>
<circle cx="257.8" cy="969.8" r="6.6" fill="#8abf60" stroke="#7cb652" stroke-width="1.3"/>
<circle cx="263.2" cy="942.8" r="6.6" fill="#8abf60" stroke="#7cb652" stroke-width="1.3"/>
<circle cx="268.5" cy="915.5" r="6.6" fill="#8abf60" stroke="#7cb652" stroke-width="1.3"/>
<circle cx="274.0" cy="888.5" r="6.6" fill="#8abf60" stroke="#7cb652" stroke-width="1.3"/>
<circle cx="280.5" cy="888.5" r="6.6" fill="#8abf60" stroke="#7cb652" stroke-width="1.3"/>
<circle cx="282.0" cy="917.0" r="6.6" fill="#8abf60" stroke="#7cb652" stroke-width="1.3"/>
<circle cx="284.5" cy="945.0" r="6.6" fill="#8abf60" stroke="#7cb652" stroke-width="1.3"/>
<circle cx="286.5" cy="973.0" r="6.6" fill="#8abf60" stroke="#7cb652" stroke-width="1.3"/>
<circle cx="288.3" cy="1000.6" r="6.6" fill="#8abf60" stroke="#7cb652" stroke-width="1.3"/>
<circle cx="293.0" cy="1029.0" r="6.6" fill="#8abf60" stroke="#7cb652" stroke-width="1.3"/>
<circle cx="297.4" cy="1032.1" r="6.6" fill="#8abf60" stroke="#7cb652" stroke-width="1.3"/>
<circle cx="306.5" cy="1006.2" r="6.6" fill="#8abf60" stroke="#7cb652" stroke-width="1.3"/>
<circle cx="316.0" cy="992.3" r="6.6" fill="#8abf60" stroke="#7cb652" stroke-width="1.3"/>
<circle cx="319.1" cy="1020.5" r="6.6" fill="#8abf60" stroke="#7cb652" stroke-width="1.3"/>
<circle cx="322.7" cy="1047.8" r="6.6" fill="#8abf60" stroke="#7cb652" stroke-width="1.3"/>
<circle cx="326.1" cy="1076.0" r="6.6" fill="#8abf60" stroke="#7cb652" stroke-width="1.3"/>
<circle cx="327.1" cy="1104.2" r="6.6" fill="#8abf60" stroke="#7cb652" stroke-width="1.3"/>
<circle cx="347.3" cy="1119.8" r="6.6" fill="#8abf60" stroke="#7cb652" stroke-width="1.3"/>
<circle cx="357.8" cy="1144.6" r="6.6" fill="#8abf60" stroke="#7cb652" stroke-width="1.3"/>
<circle cx="364.6" cy="1171.8" r="6.6" fill="#8abf60" stroke="#7cb652" stroke-width="1.3"/>
<circle cx="387.7" cy="1185.7" r="6.6" fill="#8abf60" stroke="#7cb652" stroke-width="1.3"/>
<circle cx="408.7" cy="1201.8" r="6.6" fill="#8abf60" stroke="#7cb652" stroke-width="1.3"/>
<circle cx="436.2" cy="1209.8" r="6.6" fill="#8abf60" stroke="#7cb652" stroke-width="1.3"/>
<circle cx="463.6" cy="1214.8" r="6.6" fill="#8abf60" stroke="#7cb652" stroke-width="1.3"/>
<circle cx="488.4" cy="1226.5" r="6.6" fill="#8abf60" stroke="#7cb652" stroke-width="1.3"/>
<circle cx="509.2" cy="1245.2" r="6.6" fill="#8abf60" stroke="#7cb652" stroke-width="1.3"/>
<circle cx="532.4" cy="1259.6" r="6.6" fill="#8abf60" stroke="#7cb652" stroke-width="1.3"/>
<circle cx="556.8" cy="1272.4" r="6.6" fill="#8abf60" stroke="#7cb652" stroke-width="1.3"/>
<circle cx="584.2" cy="1276.2" r="6.6" fill="#8abf60" stroke="#7cb652" stroke-width="1.3"/>
<circle cx="612.2" cy="1279.0" r="6.6" fill="#8abf60" stroke="#7cb652" stroke-width="1.3"/>
<circle cx="640.1" cy="1281.2" r="6.6" fill="#8abf60" stroke="#7cb652" stroke-width="1.3"/>
<circle cx="667.6" cy="1281.2" r="6.6" fill="#8abf60" stroke="#7cb652" stroke-width="1.3"/>
<circle cx="695.8" cy="1283.4" r="6.6" fill="#8abf60" stroke="#7cb652" stroke-width="1.3"/>
<circle cx="723.7" cy="1290.0" r="6.6" fill="#8abf60" stroke="#7cb652" stroke-width="1.3"/>
<circle cx="750.2" cy="1298.6" r="6.6" fill="#8abf60" stroke="#7cb652" stroke-width="1.3"/>
<circle cx="776.0" cy="1305.6" r="6.6" fill="#8abf60" stroke="#7cb652" stroke-width="1.3"/>
<circle cx="804.3" cy="1306.8" r="6.6" fill="#8abf60" stroke="#7cb652" stroke-width="1.3"/>
<circle cx="831.7" cy="1305.6" r="6.6" fill="#8abf60" stroke="#7cb652" stroke-width="1.3"/>
<circle cx="859.5" cy="1306.8" r="6.6" fill="#8abf60" stroke="#7cb652" stroke-width="1.3"/>
<circle cx="887.6" cy="1310.4" r="6.6" fill="#8abf60" stroke="#7cb652" stroke-width="1.3"/>
<circle cx="914.7" cy="1317.6" r="6.6" fill="#8abf60" stroke="#7cb652" stroke-width="1.3"/>
<circle cx="942.1" cy="1318.3" r="6.6" fill="#8abf60" stroke="#7cb652" stroke-width="1.3"/>
<circle cx="967.5" cy="1319.3" r="6.6" fill="#8abf60" stroke="#7cb652" stroke-width="1.3"/>
</g>
<g clip-path="url(#cb)">
<path d="M95.0,1359.0 L121.4,1358.5 L145.8,1358.5 L172.8,1357.3 L178.9,1332.1 L183.4,1304.4 L188.0,1276.6 L189.8,1249.0 L191.6,1221.0 L193.1,1193.0 L195.0,1165.4 L196.6,1137.6 L202.2,1110.6 L208.6,1084.2 L214.5,1056.2 L221.0,1028.4 L226.2,1001.2 L227.8,973.0 L230.2,945.4 L232.6,917.8 L233.8,907.8 L240.6,923.4 L248.2,949.8 L257.8,975.8 L264.1,1003.4 L266.9,1031.1 L270.1,1059.1 L277.1,1039.8 L284.8,1012.9 L292.5,985.9 L300.2,965.6 L303.0,993.3 L305.5,1020.5 L310.6,1047.8 L319.8,1074.3 L329.1,1100.9 L337.9,1127.2 L344.0,1154.4 L368.3,1164.6 L388.4,1183.3 L411.1,1199.0 L437.7,1199.5 L462.8,1206.8 L482.8,1226.5 L502.8,1246.0 L522.5,1265.2 L545.3,1281.4 L567.5,1297.0 L591.7,1283.8 L603.8,1278.3 L615.9,1288.2 L640.8,1301.8 L668.0,1304.0 L692.9,1297.4 L719.3,1289.3 L746.7,1296.0 L774.3,1294.3 L801.9,1297.2 L829.3,1303.2 L857.1,1300.8 L884.5,1300.8 L912.3,1303.2 L938.0,1309.2 L962.0,1294.3 L990.0,1292.0 L1000.0,1292.0" fill="none" stroke="#75a5d8" stroke-width="1.6" stroke-linejoin="round"/>
<circle cx="121.4" cy="1358.5" r="6.6" fill="#75a5d8" stroke="#6699d2" stroke-width="1.3"/>
<circle cx="145.8" cy="1358.5" r="6.6" fill="#75a5d8" stroke="#6699d2" stroke-width="1.3"/>
<circle cx="172.8" cy="1357.3" r="6.6" fill="#75a5d8" stroke="#6699d2" stroke-width="1.3"/>
<circle cx="178.9" cy="1332.1" r="6.6" fill="#75a5d8" stroke="#6699d2" stroke-width="1.3"/>
<circle cx="183.4" cy="1304.4" r="6.6" fill="#75a5d8" stroke="#6699d2" stroke-width="1.3"/>
<circle cx="188.0" cy="1276.6" r="6.6" fill="#75a5d8" stroke="#6699d2" stroke-width="1.3"/>
<circle cx="189.8" cy="1249.0" r="6.6" fill="#75a5d8" stroke="#6699d2" stroke-width="1.3"/>
<circle cx="191.6" cy="1221.0" r="6.6" fill="#75a5d8" stroke="#6699d2" stroke-width="1.3"/>
<circle cx="193.1" cy="1193.0" r="6.6" fill="#75a5d8" stroke="#6699d2" stroke-width="1.3"/>
<circle cx="195.0" cy="1165.4" r="6.6" fill="#75a5d8" stroke="#6699d2" stroke-width="1.3"/>
<circle cx="196.6" cy="1137.6" r="6.6" fill="#75a5d8" stroke="#6699d2" stroke-width="1.3"/>
<circle cx="202.2" cy="1110.6" r="6.6" fill="#75a5d8" stroke="#6699d2" stroke-width="1.3"/>
<circle cx="208.6" cy="1084.2" r="6.6" fill="#75a5d8" stroke="#6699d2" stroke-width="1.3"/>
<circle cx="214.5" cy="1056.2" r="6.6" fill="#75a5d8" stroke="#6699d2" stroke-width="1.3"/>
<circle cx="221.0" cy="1028.4" r="6.6" fill="#75a5d8" stroke="#6699d2" stroke-width="1.3"/>
<circle cx="226.2" cy="1001.2" r="6.6" fill="#75a5d8" stroke="#6699d2" stroke-width="1.3"/>
<circle cx="227.8" cy="973.0" r="6.6" fill="#75a5d8" stroke="#6699d2" stroke-width="1.3"/>
<circle cx="230.2" cy="945.4" r="6.6" fill="#75a5d8" stroke="#6699d2" stroke-width="1.3"/>
<circle cx="232.6" cy="917.8" r="6.6" fill="#75a5d8" stroke="#6699d2" stroke-width="1.3"/>
<circle cx="240.6" cy="923.4" r="6.6" fill="#75a5d8" stroke="#6699d2" stroke-width="1.3"/>
<circle cx="248.2" cy="949.8" r="6.6" fill="#75a5d8" stroke="#6699d2" stroke-width="1.3"/>
<circle cx="257.8" cy="975.8" r="6.6" fill="#75a5d8" stroke="#6699d2" stroke-width="1.3"/>
<circle cx="264.1" cy="1003.4" r="6.6" fill="#75a5d8" stroke="#6699d2" stroke-width="1.3"/>
<circle cx="266.9" cy="1031.1" r="6.6" fill="#75a5d8" stroke="#6699d2" stroke-width="1.3"/>
<circle cx="270.1" cy="1059.1" r="6.6" fill="#75a5d8" stroke="#6699d2" stroke-width="1.3"/>
<circle cx="277.1" cy="1039.8" r="6.6" fill="#75a5d8" stroke="#6699d2" stroke-width="1.3"/>
<circle cx="284.8" cy="1012.9" r="6.6" fill="#75a5d8" stroke="#6699d2" stroke-width="1.3"/>
<circle cx="292.5" cy="985.9" r="6.6" fill="#75a5d8" stroke="#6699d2" stroke-width="1.3"/>
<circle cx="300.2" cy="965.6" r="6.6" fill="#75a5d8" stroke="#6699d2" stroke-width="1.3"/>
<circle cx="303.0" cy="993.3" r="6.6" fill="#75a5d8" stroke="#6699d2" stroke-width="1.3"/>
<circle cx="305.5" cy="1020.5" r="6.6" fill="#75a5d8" stroke="#6699d2" stroke-width="1.3"/>
<circle cx="310.6" cy="1047.8" r="6.6" fill="#75a5d8" stroke="#6699d2" stroke-width="1.3"/>
<circle cx="319.8" cy="1074.3" r="6.6" fill="#75a5d8" stroke="#6699d2" stroke-width="1.3"/>
<circle cx="329.1" cy="1100.9" r="6.6" fill="#75a5d8" stroke="#6699d2" stroke-width="1.3"/>
<circle cx="337.9" cy="1127.2" r="6.6" fill="#75a5d8" stroke="#6699d2" stroke-width="1.3"/>
<circle cx="344.0" cy="1154.4" r="6.6" fill="#75a5d8" stroke="#6699d2" stroke-width="1.3"/>
<circle cx="368.3" cy="1164.6" r="6.6" fill="#75a5d8" stroke="#6699d2" stroke-width="1.3"/>
<circle cx="388.4" cy="1183.3" r="6.6" fill="#75a5d8" stroke="#6699d2" stroke-width="1.3"/>
<circle cx="411.1" cy="1199.0" r="6.6" fill="#75a5d8" stroke="#6699d2" stroke-width="1.3"/>
<circle cx="437.7" cy="1199.5" r="6.6" fill="#75a5d8" stroke="#6699d2" stroke-width="1.3"/>
<circle cx="462.8" cy="1206.8" r="6.6" fill="#75a5d8" stroke="#6699d2" stroke-width="1.3"/>
<circle cx="482.8" cy="1226.5" r="6.6" fill="#75a5d8" stroke="#6699d2" stroke-width="1.3"/>
<circle cx="502.8" cy="1246.0" r="6.6" fill="#75a5d8" stroke="#6699d2" stroke-width="1.3"/>
<circle cx="522.5" cy="1265.2" r="6.6" fill="#75a5d8" stroke="#6699d2" stroke-width="1.3"/>
<circle cx="545.3" cy="1281.4" r="6.6" fill="#75a5d8" stroke="#6699d2" stroke-width="1.3"/>
<circle cx="567.5" cy="1297.0" r="6.6" fill="#75a5d8" stroke="#6699d2" stroke-width="1.3"/>
<circle cx="591.7" cy="1283.8" r="6.6" fill="#75a5d8" stroke="#6699d2" stroke-width="1.3"/>
<circle cx="615.9" cy="1288.2" r="6.6" fill="#75a5d8" stroke="#6699d2" stroke-width="1.3"/>
<circle cx="640.8" cy="1301.8" r="6.6" fill="#75a5d8" stroke="#6699d2" stroke-width="1.3"/>
<circle cx="668.0" cy="1304.0" r="6.6" fill="#75a5d8" stroke="#6699d2" stroke-width="1.3"/>
<circle cx="692.9" cy="1297.4" r="6.6" fill="#75a5d8" stroke="#6699d2" stroke-width="1.3"/>
<circle cx="719.3" cy="1289.3" r="6.6" fill="#75a5d8" stroke="#6699d2" stroke-width="1.3"/>
<circle cx="746.7" cy="1296.0" r="6.6" fill="#75a5d8" stroke="#6699d2" stroke-width="1.3"/>
<circle cx="774.3" cy="1294.3" r="6.6" fill="#75a5d8" stroke="#6699d2" stroke-width="1.3"/>
<circle cx="801.9" cy="1297.2" r="6.6" fill="#75a5d8" stroke="#6699d2" stroke-width="1.3"/>
<circle cx="829.3" cy="1303.2" r="6.6" fill="#75a5d8" stroke="#6699d2" stroke-width="1.3"/>
<circle cx="857.1" cy="1300.8" r="6.6" fill="#75a5d8" stroke="#6699d2" stroke-width="1.3"/>
<circle cx="884.5" cy="1300.8" r="6.6" fill="#75a5d8" stroke="#6699d2" stroke-width="1.3"/>
<circle cx="912.3" cy="1303.2" r="6.6" fill="#75a5d8" stroke="#6699d2" stroke-width="1.3"/>
<circle cx="938.0" cy="1309.2" r="6.6" fill="#75a5d8" stroke="#6699d2" stroke-width="1.3"/>
<circle cx="962.0" cy="1294.3" r="6.6" fill="#75a5d8" stroke="#6699d2" stroke-width="1.3"/>
<circle cx="990.0" cy="1292.0" r="6.6" fill="#75a5d8" stroke="#6699d2" stroke-width="1.3"/>
</g>
<path d="M110.00,1360.40 C123.33,1360.40 130.67,1360.43 150.00,1360.40 C169.33,1360.37 160.00,1360.60 168.00,1360.30 C176.00,1360.00 171.00,1360.27 174.00,1359.50 C177.00,1358.73 174.83,1360.00 177.00,1358.00 C179.17,1356.00 178.07,1358.80 180.50,1353.50 C182.93,1348.20 181.97,1349.60 184.30,1342.10 C186.63,1334.60 185.47,1339.10 187.50,1331.00 C189.53,1322.90 188.40,1328.13 190.40,1317.80 C192.40,1307.47 191.47,1312.17 193.50,1300.00 C195.53,1287.83 194.67,1294.63 196.50,1281.30 C198.33,1267.97 197.37,1274.10 199.00,1260.00 C200.63,1245.90 199.67,1253.00 201.40,1239.00 C203.13,1225.00 202.13,1233.67 204.20,1218.00 C206.27,1202.33 205.30,1211.00 207.60,1192.00 C209.90,1173.00 209.00,1181.33 211.10,1161.00 C213.20,1140.67 212.00,1149.33 213.90,1131.00 C215.80,1112.67 215.07,1122.00 216.80,1106.00 C218.53,1090.00 217.67,1093.93 219.10,1083.00 C220.53,1072.07 219.57,1071.30 221.10,1073.20 C222.63,1075.10 221.90,1076.67 223.70,1088.70 C225.50,1100.73 224.80,1092.10 226.50,1109.30 C228.20,1126.50 227.27,1118.50 228.80,1140.30 C230.33,1162.10 229.77,1153.70 231.10,1174.70 C232.43,1195.70 231.63,1190.70 232.80,1203.30 C233.97,1215.90 233.07,1213.23 234.60,1212.50 C236.13,1211.77 235.50,1213.70 237.40,1201.10 C239.30,1188.50 238.37,1189.43 240.30,1174.70 C242.23,1159.97 241.30,1159.97 243.20,1156.90 C245.10,1153.83 244.10,1157.67 246.00,1165.50 C247.90,1173.33 246.97,1173.70 248.90,1180.40 C250.83,1187.10 249.90,1186.37 251.80,1185.60 C253.70,1184.83 252.70,1184.80 254.60,1178.10 C256.50,1171.40 255.57,1180.03 257.50,1165.50 C259.43,1150.97 258.67,1154.37 260.40,1134.50 C262.13,1114.63 261.17,1121.17 262.70,1105.90 C264.23,1090.63 263.50,1088.70 265.00,1088.70 C266.50,1088.70 265.50,1091.77 267.20,1105.90 C268.90,1120.03 268.37,1115.73 270.10,1131.10 C271.83,1146.47 270.57,1142.37 272.40,1152.00 C274.23,1161.63 273.47,1156.00 275.60,1160.00 C277.73,1164.00 276.67,1165.07 278.80,1164.00 C280.93,1162.93 279.87,1161.87 282.00,1156.80 C284.13,1151.73 282.80,1156.80 285.20,1148.80 C287.60,1140.80 286.80,1134.40 289.20,1132.80 C291.60,1131.20 290.27,1134.40 292.40,1144.00 C294.53,1153.60 293.47,1147.20 295.60,1161.60 C297.73,1176.00 296.67,1171.73 298.80,1187.20 C300.93,1202.67 300.13,1197.90 302.00,1208.00 C303.87,1218.10 302.53,1206.83 304.40,1217.50 C306.27,1228.17 305.47,1224.53 307.60,1240.00 C309.73,1255.47 308.93,1247.93 310.80,1263.90 C312.67,1279.87 311.33,1276.97 313.20,1287.90 C315.07,1298.83 314.27,1295.67 316.40,1296.70 C318.53,1297.73 316.93,1295.00 319.60,1291.00 C322.27,1287.00 321.73,1284.13 324.40,1284.70 C327.07,1285.27 325.20,1284.73 327.60,1292.70 C330.00,1300.67 328.43,1297.97 331.60,1308.60 C334.77,1319.23 333.67,1317.67 337.10,1324.60 C340.53,1331.53 338.97,1325.67 341.90,1329.40 C344.83,1333.13 343.23,1332.17 345.90,1335.80 C348.57,1339.43 346.43,1338.70 349.90,1340.30 C353.37,1341.90 352.27,1340.03 356.30,1340.60 C360.33,1341.17 358.73,1341.97 362.00,1342.00 C365.27,1342.03 363.53,1342.67 366.10,1340.70 C368.67,1338.73 367.67,1340.53 369.70,1336.10 C371.73,1331.67 370.50,1335.40 372.20,1327.40 C373.90,1319.40 373.10,1322.33 374.80,1312.10 C376.50,1301.87 375.60,1304.87 377.30,1296.70 C379.00,1288.53 377.83,1293.37 379.90,1287.60 C381.97,1281.83 381.47,1285.90 383.50,1279.40 C385.53,1272.90 384.30,1277.63 386.00,1268.10 C387.70,1258.57 387.07,1262.03 388.60,1250.80 C390.13,1239.57 389.07,1241.90 390.60,1234.40 C392.13,1226.90 391.50,1229.33 393.20,1228.30 C394.90,1227.27 393.50,1227.57 395.70,1231.30 C397.90,1235.03 397.07,1235.73 399.80,1239.50 C402.53,1243.27 401.87,1237.83 403.90,1242.60 C405.93,1247.37 404.37,1245.30 405.90,1253.80 C407.43,1262.30 406.97,1255.50 408.50,1268.10 C410.03,1280.70 408.97,1271.83 410.50,1291.60 C412.03,1311.37 411.20,1308.67 413.10,1327.40 C415.00,1346.13 413.47,1338.93 416.20,1347.80 C418.93,1356.67 418.23,1352.10 421.30,1354.00 C424.37,1355.90 423.17,1353.90 425.40,1353.50 C427.63,1353.10 425.07,1353.73 428.00,1352.80 C430.93,1351.87 430.40,1352.77 434.20,1350.70 C438.00,1348.63 436.27,1350.07 439.40,1346.60 C442.53,1343.13 440.47,1344.13 443.60,1340.30 C446.73,1336.47 445.67,1336.30 448.80,1335.10 C451.93,1333.90 450.07,1335.13 453.00,1336.70 C455.93,1338.27 454.50,1339.63 457.60,1339.80 C460.70,1339.97 459.50,1340.50 462.30,1337.20 C465.10,1333.90 463.57,1335.80 466.00,1329.90 C468.43,1324.00 467.00,1325.57 469.60,1319.50 C472.20,1313.43 471.20,1314.73 473.80,1311.70 C476.40,1308.67 474.80,1310.63 477.40,1310.40 C480.00,1310.17 478.83,1311.77 481.60,1311.00 C484.37,1310.23 483.47,1310.80 485.70,1308.10 C487.93,1305.40 486.40,1307.40 488.30,1302.90 C490.20,1298.40 489.13,1298.23 491.40,1294.60 C493.67,1290.97 493.17,1291.33 495.10,1292.00 C497.03,1292.67 495.30,1290.53 497.20,1296.60 C499.10,1302.67 498.20,1300.13 500.80,1310.20 C503.40,1320.27 502.23,1316.77 505.00,1326.80 C507.77,1336.83 506.00,1332.33 509.10,1340.30 C512.20,1348.27 510.47,1344.63 514.30,1350.70 C518.13,1356.77 516.43,1355.53 520.60,1358.50 C524.77,1361.47 520.33,1359.03 526.80,1359.60 C533.27,1360.17 482.27,1359.93 540.00,1360.20 C597.73,1360.47 557.33,1360.33 700.00,1360.40 C842.67,1360.47 878.67,1360.40 968.00,1360.40" fill="none" stroke="#000" stroke-width="1.9" stroke-linejoin="round" clip-path="url(#cb)"/>
<rect x="181.5" y="797.2" width="183.89999999999998" height="570.5999999999999" fill="#4a6fd0" fill-opacity="0.115"/>
<rect x="365.4" y="1114.3" width="185.80000000000007" height="253.5" fill="#ee82ee" fill-opacity="0.17"/>
<rect x="120.0" y="728.2" width="848.0" height="632.2" fill="none" stroke="#111" stroke-width="1.5"/>
<line x1="113.5" y1="1360.40" x2="120.0" y2="1360.40" stroke="#111" stroke-width="1.5"/>
<line x1="113.5" y1="1255.03" x2="120.0" y2="1255.03" stroke="#111" stroke-width="1.5"/>
<line x1="113.5" y1="1149.67" x2="120.0" y2="1149.67" stroke="#111" stroke-width="1.5"/>
<line x1="113.5" y1="1044.30" x2="120.0" y2="1044.30" stroke="#111" stroke-width="1.5"/>
<line x1="113.5" y1="938.93" x2="120.0" y2="938.93" stroke="#111" stroke-width="1.5"/>
<line x1="113.5" y1="833.57" x2="120.0" y2="833.57" stroke="#111" stroke-width="1.5"/>
<line x1="113.5" y1="728.20" x2="120.0" y2="728.20" stroke="#111" stroke-width="1.5"/>
<line x1="173.00" y1="1360.4" x2="173.00" y2="1366.9" stroke="#111" stroke-width="1.5"/>
<line x1="305.50" y1="1360.4" x2="305.50" y2="1366.9" stroke="#111" stroke-width="1.5"/>
<line x1="438.00" y1="1360.4" x2="438.00" y2="1366.9" stroke="#111" stroke-width="1.5"/>
<line x1="570.50" y1="1360.4" x2="570.50" y2="1366.9" stroke="#111" stroke-width="1.5"/>
<line x1="703.00" y1="1360.4" x2="703.00" y2="1366.9" stroke="#111" stroke-width="1.5"/>
<line x1="835.50" y1="1360.4" x2="835.50" y2="1366.9" stroke="#111" stroke-width="1.5"/>
<line x1="968.00" y1="1360.4" x2="968.00" y2="1366.9" stroke="#111" stroke-width="1.5"/>
<line x1="485.4" y1="820.4" x2="550" y2="820.4" stroke="#a770c0" stroke-width="1.6"/>
<circle cx="517.3" cy="820.4" r="6.6" fill="#a770c0" stroke="#9d62ba" stroke-width="1.3"/>
<line x1="485.4" y1="867.4" x2="550" y2="867.4" stroke="#8abf60" stroke-width="1.6"/>
<circle cx="517.3" cy="867.4" r="6.6" fill="#8abf60" stroke="#7cb652" stroke-width="1.3"/>
<line x1="485.4" y1="913.9" x2="550" y2="913.9" stroke="#75a5d8" stroke-width="1.6"/>
<circle cx="517.3" cy="913.9" r="6.6" fill="#75a5d8" stroke="#6699d2" stroke-width="1.3"/>
<line x1="485.4" y1="961.6" x2="550" y2="961.6" stroke="#000" stroke-width="1.9"/>
<g font-family="Liberation Sans, sans-serif" opacity="0.999">
<text x="41.31" y="645.05" font-size="30.48" textLength="62.37" lengthAdjust="spacingAndGlyphs" fill="#000">0.00</text>
<text x="41.45" y="567.40" font-size="30.48" textLength="62.37" lengthAdjust="spacingAndGlyphs" fill="#000">0.25</text>
<text x="41.31" y="489.75" font-size="30.48" textLength="62.37" lengthAdjust="spacingAndGlyphs" fill="#000">0.50</text>
<text x="41.45" y="412.10" font-size="30.48" textLength="62.37" lengthAdjust="spacingAndGlyphs" fill="#000">0.75</text>
<text x="41.31" y="334.45" font-size="30.48" textLength="62.37" lengthAdjust="spacingAndGlyphs" fill="#000">1.00</text>
<text x="41.45" y="256.80" font-size="30.48" textLength="62.37" lengthAdjust="spacingAndGlyphs" fill="#000">1.25</text>
<text x="41.31" y="179.15" font-size="30.48" textLength="62.37" lengthAdjust="spacingAndGlyphs" fill="#000">1.50</text>
<text x="41.45" y="101.50" font-size="30.48" textLength="62.37" lengthAdjust="spacingAndGlyphs" fill="#000">1.75</text>
<text x="41.31" y="23.85" font-size="30.48" textLength="62.37" lengthAdjust="spacingAndGlyphs" fill="#000">2.00</text>
<text x="87.05" y="669.20" font-size="30.48" textLength="63.26" lengthAdjust="spacingAndGlyphs" fill="#000">−0.2</text>
<text x="239.98" y="669.20" font-size="30.48" textLength="44.54" lengthAdjust="spacingAndGlyphs" fill="#000">0.0</text>
<text x="382.25" y="669.20" font-size="30.48" textLength="44.54" lengthAdjust="spacingAndGlyphs" fill="#000">0.2</text>
<text x="523.98" y="669.20" font-size="30.48" textLength="44.54" lengthAdjust="spacingAndGlyphs" fill="#000">0.4</text>
<text x="666.25" y="669.20" font-size="30.48" textLength="44.54" lengthAdjust="spacingAndGlyphs" fill="#000">0.6</text>
<text x="808.31" y="669.20" font-size="30.48" textLength="44.54" lengthAdjust="spacingAndGlyphs" fill="#000">0.8</text>
<text x="949.72" y="669.20" font-size="30.48" textLength="44.54" lengthAdjust="spacingAndGlyphs" fill="#000">1.0</text>
<text x="61.22" y="1371.05" font-size="30.48" textLength="44.54" lengthAdjust="spacingAndGlyphs" fill="#000">0.0</text>
<text x="61.35" y="1265.68" font-size="30.48" textLength="44.54" lengthAdjust="spacingAndGlyphs" fill="#000">0.5</text>
<text x="61.22" y="1160.32" font-size="30.48" textLength="44.54" lengthAdjust="spacingAndGlyphs" fill="#000">1.0</text>
<text x="61.35" y="1054.95" font-size="30.48" textLength="44.54" lengthAdjust="spacingAndGlyphs" fill="#000">1.5</text>
<text x="61.22" y="949.58" font-size="30.48" textLength="44.54" lengthAdjust="spacingAndGlyphs" fill="#000">2.0</text>
<text x="61.35" y="844.22" font-size="30.48" textLength="44.54" lengthAdjust="spacingAndGlyphs" fill="#000">2.5</text>
<text x="61.22" y="738.85" font-size="30.48" textLength="44.54" lengthAdjust="spacingAndGlyphs" fill="#000">3.0</text>
<text x="142.31" y="1395.80" font-size="30.48" textLength="62.37" lengthAdjust="spacingAndGlyphs" fill="#000">0.00</text>
<text x="274.88" y="1395.80" font-size="30.48" textLength="62.37" lengthAdjust="spacingAndGlyphs" fill="#000">0.05</text>
<text x="407.31" y="1395.80" font-size="30.48" textLength="62.37" lengthAdjust="spacingAndGlyphs" fill="#000">0.10</text>
<text x="539.88" y="1395.80" font-size="30.48" textLength="62.37" lengthAdjust="spacingAndGlyphs" fill="#000">0.15</text>
<text x="672.31" y="1395.80" font-size="30.48" textLength="62.37" lengthAdjust="spacingAndGlyphs" fill="#000">0.20</text>
<text x="804.88" y="1395.80" font-size="30.48" textLength="62.37" lengthAdjust="spacingAndGlyphs" fill="#000">0.25</text>
<text x="937.31" y="1395.80" font-size="30.48" textLength="62.37" lengthAdjust="spacingAndGlyphs" fill="#000">0.30</text>
<text x="516.20" y="406.00" font-size="24.04" textLength="46.11" lengthAdjust="spacingAndGlyphs" fill="#000">528</text>
<text x="571.50" y="406.00" font-size="24.04" textLength="46.11" lengthAdjust="spacingAndGlyphs" fill="#000">529</text>
<text x="626.66" y="406.00" font-size="24.04" textLength="46.11" lengthAdjust="spacingAndGlyphs" fill="#000">530</text>
<text x="681.96" y="406.00" font-size="24.04" textLength="46.11" lengthAdjust="spacingAndGlyphs" fill="#000">531</text>
<text x="737.26" y="406.00" font-size="24.04" textLength="46.11" lengthAdjust="spacingAndGlyphs" fill="#000">532</text>
<text x="792.41" y="406.00" font-size="24.04" textLength="46.11" lengthAdjust="spacingAndGlyphs" fill="#000">533</text>
<text x="847.43" y="406.00" font-size="24.04" textLength="46.11" lengthAdjust="spacingAndGlyphs" fill="#000">534</text>
<text x="902.80" y="406.00" font-size="24.04" textLength="46.11" lengthAdjust="spacingAndGlyphs" fill="#000">535</text>
<text x="422.94" y="704.50" font-size="27.72" textLength="242.96" lengthAdjust="spacingAndGlyphs" fill="#000">Energy Loss (eV)</text>
<text x="423.34" y="1431.40" font-size="29.10" textLength="241.60" lengthAdjust="spacingAndGlyphs" fill="#000">Energy Loss (eV)</text>
<text transform="translate(25.30,471.62) rotate(-90)" x="0" y="0" font-size="32.00" textLength="292.10" lengthAdjust="spacingAndGlyphs">Intensity (arb. units)</text>
<text transform="translate(46.50,1190.60) rotate(-90)" x="0" y="0" font-size="30.84" textLength="291.55" lengthAdjust="spacingAndGlyphs">Intensity (arb. units)</text>
<text x="671.46" y="444.50" font-size="23.59" textLength="156.43" lengthAdjust="spacingAndGlyphs" fill="#000">Energy (eV)</text>
<text transform="translate(528.90,352.90) rotate(-90)" x="0" y="0" font-size="22.25" textLength="216.77" lengthAdjust="spacingAndGlyphs">Intensity (arb. u.)</text>
<text x="849.04" y="74.40" font-size="57.30" textLength="26.62" lengthAdjust="spacingAndGlyphs" font-weight="bold" fill="#000">a</text>
<text x="865.90" y="799.50" font-size="58.07" textLength="32.95" lengthAdjust="spacingAndGlyphs" font-weight="bold" fill="#000">b</text>
<text x="191.29" y="784.70" font-size="50.62" textLength="136.22" lengthAdjust="spacingAndGlyphs" fill="#000">Nb+O</text>
<text x="433.69" y="1099.00" font-size="52.81" textLength="41.15" lengthAdjust="spacingAndGlyphs" fill="#000">O</text>
<text x="574.32" y="830.80" font-size="29.79" textLength="157.99" lengthAdjust="spacingAndGlyphs" fill="#000">Sputtered</text>
<text x="573.15" y="877.20" font-size="29.24" textLength="277.84" lengthAdjust="spacingAndGlyphs" fill="#000">HiPIMS optimized</text>
<text x="573.18" y="924.00" font-size="29.24" textLength="232.33" lengthAdjust="spacingAndGlyphs" fill="#000">HiPIMS normal</text>
<text x="573.15" y="970.8" font-size="30.25" textLength="295.36" lengthAdjust="spacingAndGlyphs">Phonon DOS of Nb</text><text x="868.51" y="976.3" font-size="21.18" textLength="13.40" lengthAdjust="spacingAndGlyphs">2</text><text x="881.91" y="970.8" font-size="30.25" textLength="26.84" lengthAdjust="spacingAndGlyphs">O</text><text x="908.75" y="976.3" font-size="21.18" textLength="13.40" lengthAdjust="spacingAndGlyphs">5</text>
</g>
</g>
</svg>
</body></html>
